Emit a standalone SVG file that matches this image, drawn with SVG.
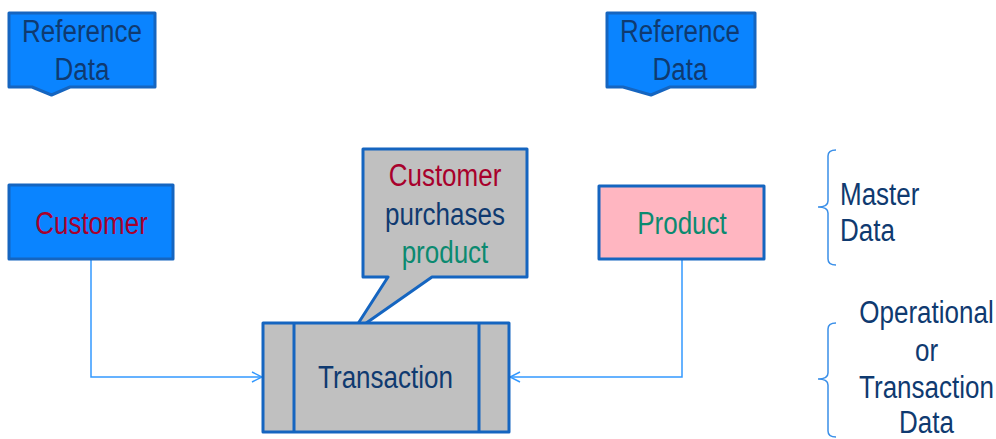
<svg xmlns="http://www.w3.org/2000/svg" width="996" height="439" viewBox="0 0 996 439">
  <style>
    .lbl { font-family: "Liberation Sans", Arial, sans-serif; font-size: 26px; fill: #0F3A70; text-anchor: middle; }
    .left { text-anchor: start; }
    .red { fill: #A8002C; }
    .green { fill: #0B8A70; }
    .blue { fill: #0A84FF; stroke: #1565C0; stroke-width: 3; stroke-linejoin: round; }
    .gray { fill: #C0C0C0; stroke: #1565C0; stroke-width: 3; stroke-linejoin: round; }
    .pink { fill: #FFB6C1; stroke: #1565C0; stroke-width: 3; stroke-linejoin: round; }
    .conn { fill: none; stroke: #3399FF; stroke-width: 1.5; }
    .brace { fill: none; stroke: #3A8FE8; stroke-width: 1.5; }
  </style>
  <defs>
    <marker id="arrow" viewBox="0 0 12 12" refX="11" refY="6" markerWidth="12" markerHeight="12" markerUnits="userSpaceOnUse" orient="auto">
      <path d="M1,1 L11,6 L1,11" fill="none" stroke="#3399FF" stroke-width="1.5"/>
    </marker>
  </defs>
  <rect width="996" height="439" fill="#FFFFFF"/>

  <!-- connectors -->
  <g id="connectors">
    <path class="conn" d="M91,259 V377 H262" marker-end="url(#arrow)"/>
    <path class="conn" d="M682,259 V377 H510" marker-end="url(#arrow)"/>
  </g>

  <!-- reference data, left -->
  <g id="ref-data-left">
    <path class="blue" d="M9,13 H155 V87 H70 L51.5,95 L32,87 H9 Z"/>
    <text class="lbl" transform="translate(82,42) scale(1,1.2)"><tspan x="0" y="0">Reference</tspan><tspan x="0" dy="31.5">Data</tspan></text>
  </g>

  <!-- reference data, right -->
  <g id="ref-data-right">
    <path class="blue" d="M607,13 H755 V87 H670 L651,95 L623,87 H607 Z"/>
    <text class="lbl" transform="translate(680,42) scale(1,1.2)"><tspan x="0" y="0">Reference</tspan><tspan x="0" dy="31.5">Data</tspan></text>
  </g>

  <!-- customer -->
  <g id="customer">
    <rect class="blue" x="9" y="185" width="164" height="74"/>
    <text class="lbl red" transform="translate(91.5,234) scale(1,1.2)">Customer</text>
  </g>

  <!-- product -->
  <g id="product">
    <rect class="pink" x="599" y="186" width="165" height="73"/>
    <text class="lbl green" transform="translate(682,234) scale(1,1.2)">Product</text>
  </g>

  <!-- callout: one text per coloured line -->
  <g id="callout">
    <path class="gray" d="M363,149 H527 V277 H432 L352,333 L388,277 H363 Z"/>
    <text class="lbl red" transform="translate(445,186) scale(1,1.2)">Customer</text>
    <text class="lbl" transform="translate(445,225) scale(1,1.2)">purchases</text>
    <text class="lbl green" transform="translate(445,263.4) scale(1,1.2)">product</text>
  </g>

  <!-- transaction -->
  <g id="transaction">
    <rect class="gray" x="263" y="323" width="246" height="109"/>
    <line x1="294" y1="323" x2="294" y2="432" stroke="#1565C0" stroke-width="3"/>
    <line x1="479" y1="323" x2="479" y2="432" stroke="#1565C0" stroke-width="3"/>
    <text class="lbl" transform="translate(385.5,388) scale(1,1.2)">Transaction</text>
  </g>

  <!-- master data brace -->
  <g id="master-data">
    <path class="brace" d="M836,150 Q828,150 828,156 V201 Q828,207 818,207 Q828,207 828,213 V259 Q828,265 836,265"/>
    <text class="lbl left" transform="translate(840,205) scale(1,1.2)"><tspan x="0" y="0">Master</tspan><tspan x="0" dy="30">Data</tspan></text>
  </g>

  <!-- operational data brace -->
  <g id="operational-data">
    <path class="brace" d="M836,323 Q828,323 828,329 V373 Q828,379 818,379 Q828,379 828,385 V431 Q828,437 836,437"/>
    <text class="lbl" transform="translate(926.5,323) scale(1,1.2)"><tspan x="0" y="0">Operational</tspan><tspan x="0" dy="32">or</tspan><tspan x="0" dy="30.5">Transaction</tspan><tspan x="0" dy="29.5">Data</tspan></text>
  </g>
</svg>
